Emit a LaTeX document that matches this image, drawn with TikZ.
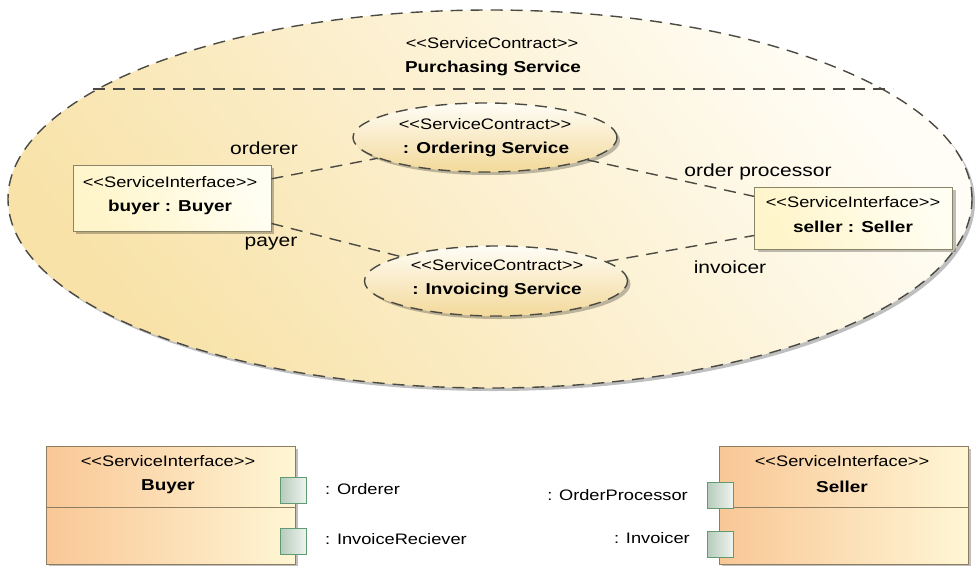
\documentclass[tikz,border=0pt]{standalone}
\usepackage{fontspec}
\setmainfont{Liberation Sans}[FakeStretch=1.2]
\usetikzlibrary{shapes.geometric,shadows}
\definecolor{ellD}{HTML}{F8E2A8}
\definecolor{ellL}{HTML}{FFFDF6}
\definecolor{innD}{HTML}{F3D99A}
\definecolor{dashc}{HTML}{4A4A42}
\definecolor{insL}{HTML}{FFFEF2}
\definecolor{insR}{HTML}{FFF5CA}
\definecolor{insB}{HTML}{8A8468}
\definecolor{clsL}{HTML}{F9C796}
\definecolor{clsR}{HTML}{FFF6D4}
\definecolor{clsB}{HTML}{8C7C62}
\definecolor{portL}{HTML}{B6CCBC}
\definecolor{portR}{HTML}{F0F4EF}
\definecolor{portB}{HTML}{5F9A72}
\newcommand\stereofont{\fontsize{15.2}{18}\selectfont}
\newcommand\namefont{\fontsize{15.8}{18}\selectfont\bfseries}
\newcommand\rolefont{\fontsize{17.5}{20}\selectfont}
\newcommand\portfont{\fontsize{15.2}{18}\selectfont}
\newcommand\stereo[1]{<\kern0pt<#1>\kern0pt>}
\tikzset{
  shad/.style={drop shadow={shadow xshift=3pt,shadow yshift=-3pt,fill=black,opacity=0.25}},
  dashline/.style={draw=dashc,line width=1.4pt,dash pattern=on 12pt off 8pt},
  contract/.style={ellipse,shad,top color=ellL,bottom color=ellD,shading angle=-50,dashline,inner sep=0pt},
  innercontract/.style={contract,bottom color=innD},
  instbox/.style={rectangle,shad,top color=insL,bottom color=insR,shading angle=-60,draw=insB,line width=0.9pt,minimum width=198pt,minimum height=66pt,inner sep=0pt},
  clsbox/.style={rectangle,shad,left color=clsL,right color=clsR,draw=clsB,line width=1pt,minimum width=249pt,minimum height=118pt,inner sep=0pt},
  portbox/.style={rectangle,left color=portL,right color=portR,draw=portB,line width=1pt,minimum width=26pt,minimum height=26pt,inner sep=0pt},
  conn/.style={dashline},
  stxt/.style={inner sep=0pt,font=\stereofont},
  ntxt/.style={inner sep=0pt,font=\namefont},
  rtxt/.style={inner sep=0pt,font=\rolefont},
  ptxt/.style={inner sep=0pt,font=\portfont},
}
\begin{document}
\begin{tikzpicture}[x=1pt,y=-1pt]
\useasboundingbox (0,0) rectangle (976,565);
% big contract
\node[contract,minimum width=964pt,minimum height=378pt] (purch) at (490,199) {};
\draw[dashline] (93,89) -- (893,89);
\node[stxt] (purchst) at (492,43) {\stereo{ServiceContract}};
\node[ntxt] (purchnm) at (493,68) {Purchasing Service};
% inner contracts
\node[innercontract,minimum width=264pt,minimum height=69pt] (ord) at (485,137.5) {};
\node[stxt] (ordst) at (485,124) {\stereo{ServiceContract}};
\node[ntxt] (ordnm) at (486,149) {: Ordering Service};
\node[innercontract,minimum width=263pt,minimum height=70pt] (inv) at (496,281) {};
\node[stxt] (invst) at (497,265) {\stereo{ServiceContract}};
\node[ntxt] (invnm) at (497,290) {: Invoicing Service};
% participants
\node[instbox] (buyer) at (172,198) {};
\node[stxt] (buyerst) at (170,182) {\stereo{ServiceInterface}};
\node[ntxt] (buyernm) at (170,207) {buyer : Buyer};
\node[instbox,minimum height=62pt] (seller) at (853.5,218) {};
\node[stxt] (sellerst) at (853,202) {\stereo{ServiceInterface}};
\node[ntxt] (sellernm) at (853,227) {seller : Seller};
% connectors
\draw[conn] (buyer) -- (ord);
\draw[conn] (buyer) -- (inv);
\draw[conn] (ord) -- (seller);
\draw[conn] (inv) -- (seller);
\node[rtxt] (lorderer) at (264,148) {orderer};
\node[rtxt] (lpayer) at (271,244) {payer};
\node[rtxt] (lordproc) at (758,172) {order processor};
\node[rtxt] (linvoicer) at (730,267) {invoicer};
% bottom classifiers
\node[clsbox] (buyercls) at (170.5,505) {};
\draw[draw=clsB,line width=1pt] (46,507) -- (295,507);
\node[stxt] (buyerclsst) at (168,461) {\stereo{ServiceInterface}};
\node[ntxt] (buyerclsnm) at (168,487) {Buyer};
\node[portbox] (p1) at (293.5,490) {};
\node[portbox] (p2) at (293.5,541) {};
\node[ptxt,anchor=west] (p1l) at (325,489) {: Orderer};
\node[ptxt,anchor=west] (p2l) at (325,539) {: InvoiceReciever};
\node[clsbox] (sellercls) at (843.5,505) {};
\draw[draw=clsB,line width=1pt] (719,507) -- (968,507);
\node[stxt] (sellerclsst) at (842,461) {\stereo{ServiceInterface}};
\node[ntxt] (sellerclsnm) at (842,487) {Seller};
\node[portbox] (p3) at (720.5,495.5) {};
\node[portbox] (p4) at (720.5,544.5) {};
\node[ptxt,anchor=east] (p3l) at (688,495) {: OrderProcessor};
\node[ptxt,anchor=east] (p4l) at (690,538) {: Invoicer};
\end{tikzpicture}
\end{document}
